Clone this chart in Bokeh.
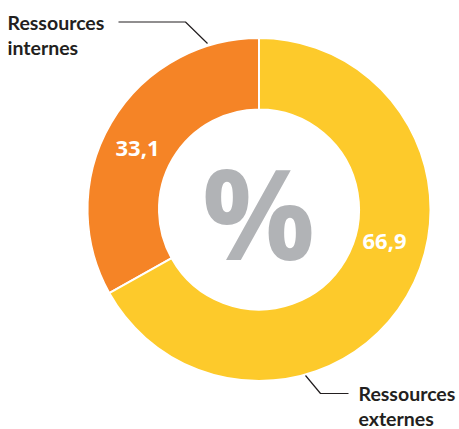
from bokeh.plotting import figure
from bokeh.models import Range1d, ColumnDataSource
from bokeh.core.properties import value
from bokeh.embed import file_html
from bokeh.resources import INLINE
import math

categories = ["Ressources internes", "Ressources externes"]
values = [33.1, 66.9]
value_labels = ["33,1", "66,9"]
colors = ["#F58426", "#FDCA2B"]

W, H = 459, 429
p = figure(width=W, height=H, output_backend="svg", toolbar_location=None,
           x_range=Range1d(0, W), y_range=Range1d(0, H),
           min_border=0, background_fill_color="white", border_fill_color="white")
p.axis.visible = False
p.grid.visible = False
p.outline_line_color = None

def Y(py):
    return 429 - py

cx, cy = 258.5, Y(209)
total = sum(values)
starts, ends = [], []
a = math.pi / 2
for v in values:
    starts.append(a)
    a += v / total * 2 * math.pi
    ends.append(a)

src = ColumnDataSource(dict(start=starts, end=ends, color=colors))
p.annular_wedge(x=cx, y=cy, inner_radius=100, outer_radius=171.5,
                start_angle="start", end_angle="end", fill_color="color",
                line_color="white", line_width=2, direction="anticlock", source=src)

# value labels
p.text(x=[137, 384], y=[Y(148), Y(241)], text=value_labels,
       text_font=value("Open Sans"), text_font_style="bold", text_font_size="22px",
       text_color="white", text_align="center", text_baseline="middle")

# percent sign
p.text(x=[258], y=[Y(210)], text=["%"], text_font=value("Open Sans"), text_font_style="bold",
       text_font_size="126px", text_color="#B1B3B6", text_align="center", text_baseline="middle")

# category labels (two lines each)
lab_x, lab_y = [], []
lab_t = []
for cat, (x0, y0) in zip(categories, [(7, 22), (358, 393)]):
    words = cat.split(" ")
    for i, w in enumerate(words):
        lab_x.append(x0)
        lab_y.append(Y(y0 + 24.5 * i))
        lab_t.append(w)
p.text(x=lab_x, y=lab_y, text=lab_t, text_font=value("Lato"), text_font_style="bold",
       text_font_size="19.5px", text_color="#231F20", text_align="left", text_baseline="alphabetic")

# leader lines
p.line(x=[118, 185, 207], y=[Y(21.5), Y(21.5), Y(43)], line_color="#231F20", line_width=1.2)
p.line(x=[305, 320, 348], y=[Y(375), Y(393), Y(393)], line_color="#231F20", line_width=1.2)

open("out.html", "w").write(file_html(p, INLINE))
